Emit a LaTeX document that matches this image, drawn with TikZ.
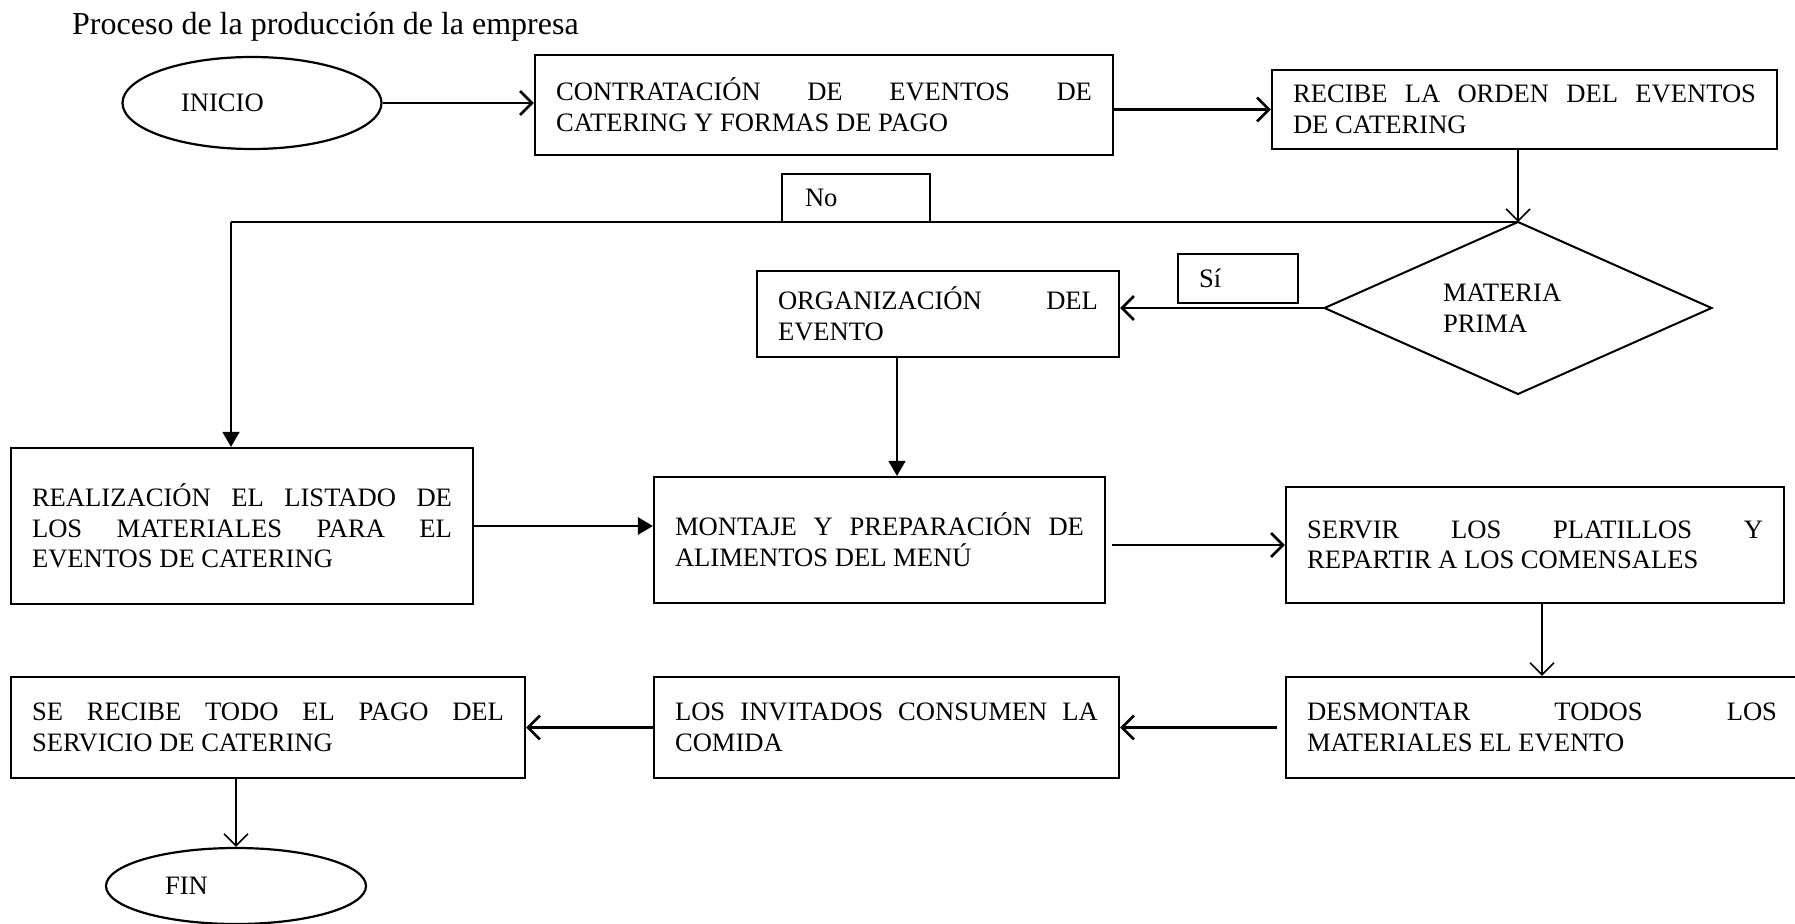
\documentclass[tikz,border=0pt]{standalone}
\usepackage{fontspec}
\setmainfont{Liberation Serif}
\usetikzlibrary{shapes.geometric,arrows.meta}
\hyphenpenalty=10000
\exhyphenpenalty=10000

\tikzset{
  txt/.style={font=\fontsize{26.6}{30.6}\selectfont},
  procbox/.style={txt, draw, rectangle, line width=2.2pt, inner xsep=21pt, inner ysep=0pt, align=justify},
  tagbox/.style={txt, draw, rectangle, line width=2pt, inner ysep=0pt, align=left},
  term/.style={txt, draw, ellipse, line width=2.2pt, inner sep=0pt, text width=142pt, align=left},
  decision/.style={txt, draw, diamond, aspect=2.25, line width=2pt, inner sep=0pt, outer sep=0pt, text width=150pt, align=left},
  hconn/.style={line width=2.6pt},
  vconn/.style={line width=1.6pt},
  openhead/.style={-{Straight Barb[length=12pt,width=24pt]}},
  fillhead/.style={-{Triangle[length=15pt,width=17pt]}}
}

\begin{document}
\begin{tikzpicture}[x=1pt,y=-1pt]
\useasboundingbox (0,0) rectangle (1795,923);

% heading
\node[font=\fontsize{32}{36}\selectfont, anchor=base west, inner sep=0pt] (title) at (72,35) {Proceso de la producción de la empresa};

% terminals
\node[term, minimum width=259pt, minimum height=92pt] (inicio) at (252,103) {INICIO};
\node[term, minimum width=260pt, minimum height=76pt] (fin) at (236,886) {FIN};

% process steps
\node[procbox, minimum width=578pt, text width=536pt, minimum height=100pt] (contr) at (824,105)
  {CONTRATACIÓN DE EVENTOS DE\linebreak CATERING Y FORMAS DE PAGO};
\node[procbox, minimum width=505pt, text width=463pt, minimum height=79pt] (recibe) at (1524.5,109.5)
  {RECIBE LA ORDEN DEL EVENTOS\linebreak DE CATERING};
\node[procbox, minimum width=362pt, text width=320pt, minimum height=86pt] (org) at (938,314)
  {ORGANIZACIÓN DEL\linebreak EVENTO};
\node[procbox, minimum width=462pt, text width=420pt, minimum height=156pt] (real) at (242,526)
  {REALIZACIÓN EL LISTADO DE\linebreak LOS MATERIALES PARA EL\linebreak EVENTOS DE CATERING};
\node[procbox, minimum width=451pt, text width=409pt, minimum height=126pt] (mont) at (879.5,540)
  {MONTAJE Y PREPARACIÓN DE\linebreak ALIMENTOS DEL MENÚ};
\node[procbox, minimum width=498pt, text width=456pt, minimum height=116pt] (serv) at (1535,545)
  {SERVIR LOS PLATILLOS Y\linebreak REPARTIR A LOS COMENSALES};
\node[procbox, minimum width=512pt, text width=470pt, minimum height=101pt] (desm) at (1542,727.5)
  {DESMONTAR TODOS LOS\linebreak MATERIALES EL EVENTO};
\node[procbox, minimum width=465pt, text width=423pt, minimum height=101pt] (invit) at (886.5,727.5)
  {LOS INVITADOS CONSUMEN LA\linebreak COMIDA};
\node[procbox, minimum width=514pt, text width=472pt, minimum height=101pt] (pago) at (268,727.5)
  {SE RECIBE TODO EL PAGO DEL\linebreak SERVICIO DE CATERING};

% decision and its answers
\node[decision, minimum width=387pt, minimum height=172pt] (mp) at (1518,308) {MATERIA\\PRIMA};
\node[tagbox, inner xsep=23pt, text width=102pt, minimum width=148pt, minimum height=48pt] (no) at (856,198) {No};
\node[tagbox, inner xsep=21pt, text width=78pt, minimum width=120pt, minimum height=49pt] (si) at (1238,278.5) {Sí};

% bend of the "No" branch
\coordinate (corner) at (231,222);

% connectors
\draw[hconn, openhead] (inicio.east) -- (inicio.east -| contr.west);
\draw[hconn, openhead] (contr.east |- recibe.west) -- (recibe.west);
\draw[vconn, openhead] (recibe.south -| mp.north) -- (mp.north);
\draw[hconn] (mp.north) -- (corner);
\draw[vconn, fillhead] (corner) -- (corner |- real.north);
\draw[hconn, openhead] (mp.west) -- (mp.west -| org.east);
\draw[vconn, fillhead] ([xshift=-41pt]org.south) -- ([xshift=-41pt]org.south |- mont.north);
\draw[hconn, fillhead] (real.east) -- (real.east -| mont.west);
\draw[hconn, openhead] ([xshift=6pt]mont.east |- serv.west) -- (serv.west);
\draw[vconn, openhead] (desm.north |- serv.south) -- (desm.north);
\draw[hconn, openhead] ([xshift=-8pt]desm.west) -- (invit.east);
\draw[hconn, openhead] (invit.west) -- (pago.east);
\draw[vconn, openhead] (fin.north |- pago.south) -- (fin.north);
\end{tikzpicture}
\end{document}
